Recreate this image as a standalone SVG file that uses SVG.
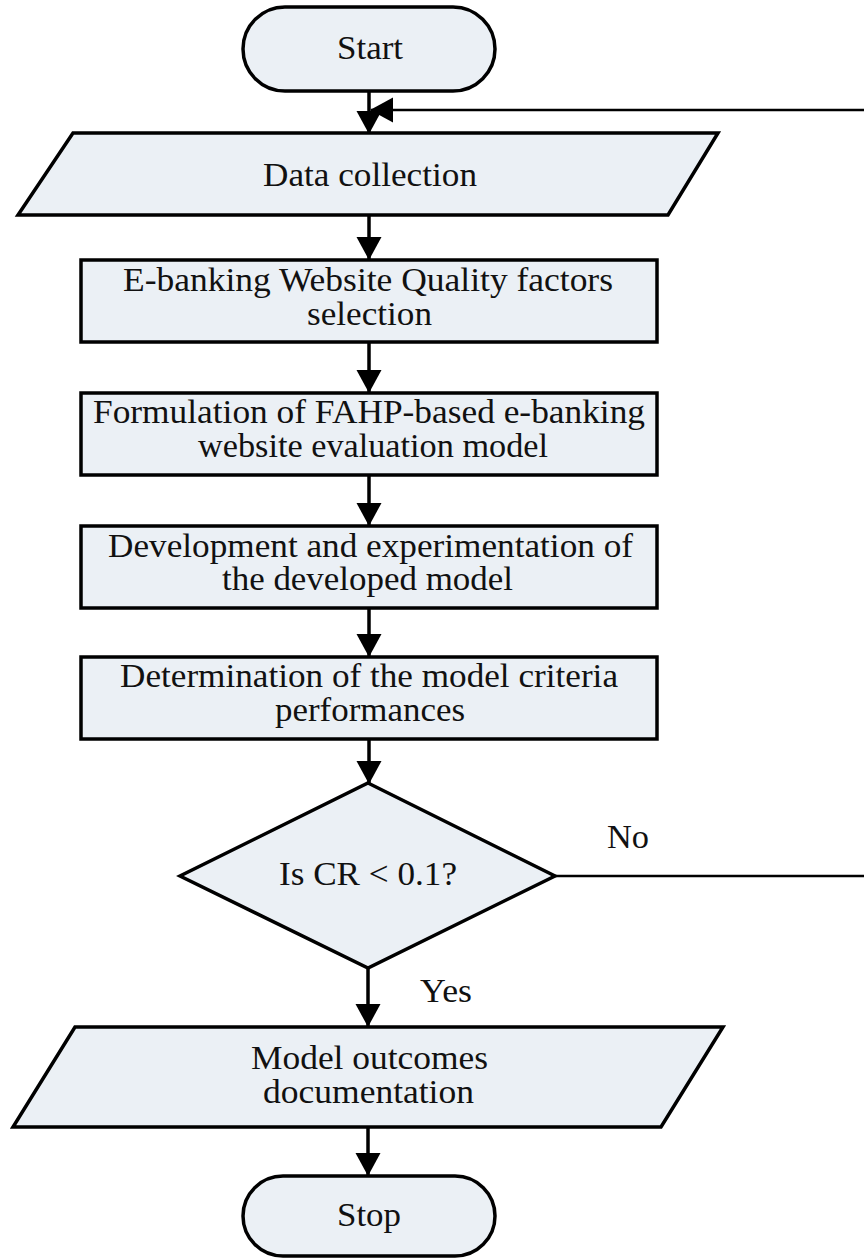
<svg xmlns="http://www.w3.org/2000/svg" width="864" height="1258" viewBox="0 0 864 1258">
  <style>
    .shape { fill: #EBF0F5; stroke: #000; stroke-width: 3.5; stroke-linejoin: miter; }
    .lbl { font-family: "Liberation Serif", "Times New Roman", serif; font-size: 33px; fill: #111; text-anchor: middle; }
    .edge { fill: none; stroke: #000; stroke-width: 3.5; }
    .thin { fill: none; stroke: #000; stroke-width: 2.5; }
  </style>
  <defs>
    <marker id="arrow" markerUnits="userSpaceOnUse" markerWidth="24" markerHeight="26" refX="22" refY="12.5" orient="auto">
      <path d="M0,0 L23,12.5 L0,25 Z" fill="#000"/>
    </marker>
  </defs>
  <rect width="864" height="1258" fill="#fff"/>

  <g id="connectors">
    <line class="edge" x1="369" y1="91" x2="369" y2="133" marker-end="url(#arrow)"/>
    <line class="thin" x1="864" y1="110" x2="371" y2="110" marker-end="url(#arrow)"/>
    <line class="edge" x1="369" y1="215" x2="369" y2="259" marker-end="url(#arrow)"/>
    <line class="edge" x1="369" y1="342" x2="369" y2="392" marker-end="url(#arrow)"/>
    <line class="edge" x1="369" y1="475" x2="369" y2="525" marker-end="url(#arrow)"/>
    <line class="edge" x1="369" y1="608" x2="369" y2="656" marker-end="url(#arrow)"/>
    <line class="edge" x1="369" y1="739" x2="369" y2="783" marker-end="url(#arrow)"/>
    <line class="thin" x1="555" y1="876" x2="864" y2="876"/>
    <line class="edge" x1="368" y1="968" x2="368" y2="1026" marker-end="url(#arrow)"/>
    <line class="edge" x1="368" y1="1127" x2="368" y2="1175" marker-end="url(#arrow)"/>
    <text class="lbl" x="628" y="848" textLength="42" lengthAdjust="spacingAndGlyphs">No</text>
    <text class="lbl" x="446" y="1002" textLength="52" lengthAdjust="spacingAndGlyphs">Yes</text>
  </g>

  <g id="start">
    <rect class="shape" x="243" y="7" width="252" height="84" rx="42" ry="42"/>
    <text class="lbl" x="370" y="59" textLength="66" lengthAdjust="spacingAndGlyphs">Start</text>
  </g>

  <g id="data-collection">
    <polygon class="shape" points="73,133 718,133 668,215 18,215"/>
    <text class="lbl" x="370" y="186" textLength="214" lengthAdjust="spacingAndGlyphs">Data collection</text>
  </g>

  <g id="factors-selection">
    <rect class="shape" x="81" y="260" width="576" height="82"/>
    <text class="lbl" x="368" y="291" textLength="490" lengthAdjust="spacingAndGlyphs">E-banking Website Quality factors</text>
    <text class="lbl" x="369.5" y="325" textLength="125" lengthAdjust="spacingAndGlyphs">selection</text>
  </g>

  <g id="formulation">
    <rect class="shape" x="81" y="393" width="576" height="82"/>
    <text class="lbl" x="369" y="423" textLength="552" lengthAdjust="spacingAndGlyphs">Formulation of FAHP-based e-banking</text>
    <text class="lbl" x="373" y="457" textLength="350" lengthAdjust="spacingAndGlyphs">website evaluation model</text>
  </g>

  <g id="development">
    <rect class="shape" x="81" y="526" width="576" height="82"/>
    <text class="lbl" x="370.5" y="557" textLength="525" lengthAdjust="spacingAndGlyphs">Development and experimentation of</text>
    <text class="lbl" x="367.5" y="590" textLength="291" lengthAdjust="spacingAndGlyphs">the developed model</text>
  </g>

  <g id="determination">
    <rect class="shape" x="81" y="657" width="576" height="82"/>
    <text class="lbl" x="369" y="687" textLength="498" lengthAdjust="spacingAndGlyphs">Determination of the model criteria</text>
    <text class="lbl" x="370" y="721" textLength="190" lengthAdjust="spacingAndGlyphs">performances</text>
  </g>

  <g id="decision">
    <polygon class="shape" points="368,783 555,876 368,968 180,876"/>
    <text class="lbl" x="368" y="885" textLength="178" lengthAdjust="spacingAndGlyphs">Is CR &lt; 0.1?</text>
  </g>

  <g id="documentation">
    <polygon class="shape" points="75,1027 723,1027 661,1127 13,1127"/>
    <text class="lbl" x="369.5" y="1069" textLength="237" lengthAdjust="spacingAndGlyphs">Model outcomes</text>
    <text class="lbl" x="368.5" y="1103" textLength="211" lengthAdjust="spacingAndGlyphs">documentation</text>
  </g>

  <g id="stop">
    <rect class="shape" x="243" y="1176" width="252" height="80" rx="40" ry="40"/>
    <text class="lbl" x="369" y="1226" textLength="64" lengthAdjust="spacingAndGlyphs">Stop</text>
  </g>
</svg>
